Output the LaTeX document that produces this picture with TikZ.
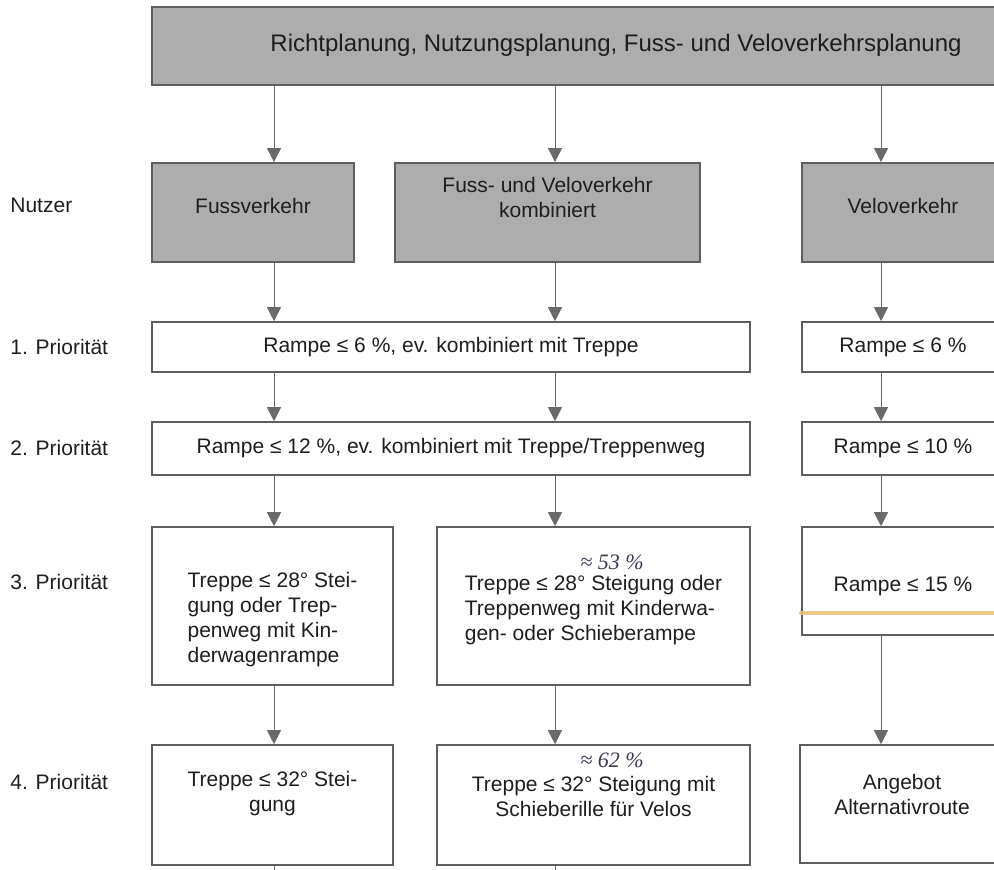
\documentclass[tikz,border=0pt]{standalone}
\usepackage{fontspec}
\setmainfont{Liberation Sans}
\newfontfamily\handfont{Liberation Serif}
\usetikzlibrary{arrows.meta}

\definecolor{boxgray}{HTML}{ADADAD}
\definecolor{framegray}{HTML}{5E5E5E}
\definecolor{arrowgray}{HTML}{6A6A6A}
\definecolor{inkgray}{HTML}{1E1E1E}
\definecolor{handink}{HTML}{3A3A52}
\definecolor{marker}{HTML}{E5C070}

\tikzset{
    boxtext/.style={font=\fontsize{10.5}{12.5}\selectfont, text=inkgray, inner sep=0pt},
    graybox/.style={draw=framegray, fill=boxgray, line width=0.9pt, inner sep=0pt},
    whitebox/.style={draw=framegray, fill=white, line width=0.8pt, inner sep=0pt},
    handnote/.style={font=\handfont\itshape\fontsize{11}{12}\selectfont, text=handink, inner sep=0pt}
}

\begin{document}
\begin{tikzpicture}[x=0.5pt,y=-0.5pt]
    \useasboundingbox (0,0) rectangle (994,870);

    % column positions of the arrows
    \coordinate (c1) at (274,0);
    \coordinate (c2) at (555,0);
    \coordinate (c3) at (881,0);
    \coordinate (cut) at (0,880);

    % gray boxes
    \begin{scope}[every node/.style={graybox}]
        \node (plan) at (616,46) [minimum width=464pt, minimum height=39pt] {};
        \node (fuss) at (253,212.5) [minimum width=101pt, minimum height=49.5pt] {};
        \node (kombi) at (547.5,212.5) [minimum width=152.5pt, minimum height=49.5pt] {};
        \node (velo) at (903,212.5) [minimum width=101pt, minimum height=49.5pt] {};
    \end{scope}

    % white boxes
    \begin{scope}[every node/.style={whitebox}]
        \node (p1a) at (451,347) [minimum width=299pt, minimum height=25pt] {};
        \node (p1b) at (903,347) [minimum width=101pt, minimum height=25pt] {};
        \node (p2a) at (451,448.5) [minimum width=299pt, minimum height=26.5pt] {};
        \node (p2b) at (903,448.5) [minimum width=101pt, minimum height=26.5pt] {};
        \node (p3a) at (272.5,606) [minimum width=120.5pt, minimum height=79pt] {};
        \node (p3b) at (593.5,606) [minimum width=156.5pt, minimum height=79pt] {};
        \node (p3c) at (903,581) [minimum width=101pt, minimum height=54pt] {};
        \node (p4a) at (272.5,805) [minimum width=120.5pt, minimum height=60pt] {};
        \node (p4b) at (593.5,805) [minimum width=156.5pt, minimum height=60pt] {};
        \node (p4c) at (902,804) [minimum width=102pt, minimum height=59pt] {};
    \end{scope}

    % marker stroke
    \draw [marker, line width=2.2pt, opacity=0.85, line cap=round] (p3c.west |- 0,613) -- (p3c.east |- 0,613);

    % box texts
    \begin{scope}[every node/.style={boxtext, align=center}]
        \node (tplan) at (616,45) [font=\fontsize{12}{14}\selectfont] {Richtplanung, Nutzungsplanung, Fuss- und Veloverkehrsplanung};
        \node (tfuss) at (253,206) {Fussverkehr};
        \node (tkombi) at (547.5,197) {Fuss- und Veloverkehr\\kombiniert};
        \node (tvelo) at (903,206) {Veloverkehr};
        \node (t1a) at (451,347) {Rampe ≤ 6 \%, ev. kombiniert mit Treppe};
        \node (t1b) at (903,347) {Rampe ≤ 6 \%};
        \node (t2a) at (451,448.5) {Rampe ≤ 12 \%, ev. kombiniert mit Treppe/Treppenweg};
        \node (t2b) at (903,448.5) {Rampe ≤ 10 \%};
        \node (t3a) at (272.5,620) [align=left] {Treppe ≤ 28° Stei-\\gung oder Trep-\\penweg mit Kin-\\derwagenrampe};
        \node (t3b) at (593.5,610) [align=left] {Treppe ≤ 28° Steigung oder\\Treppenweg mit Kinderwa-\\gen- oder Schieberampe};
        \node (t3c) at (903,586) {Rampe ≤ 15 \%};
        \node (t4a) at (272.5,794) {Treppe ≤ 32° Stei-\\gung};
        \node (t4b) at (593.5,796) {Treppe ≤ 32° Steigung mit\\Schieberille für Velos};
        \node (t4c) at (902,794) {Angebot\\Alternativroute};
    \end{scope}

    % row labels
    \begin{scope}[every node/.style={anchor=west, boxtext}]
        \node (lnutzer) at (10,205) {Nutzer};
        \node (lprio1) at (10,347) {1. Priorität};
        \node (lprio2) at (10,448) {2. Priorität};
        \node (lprio3) at (10,582) {3. Priorität};
        \node (lprio4) at (10,782) {4. Priorität};
    \end{scope}

    % handwritten notes
    \node [handnote] (note53) at (612,562) {≈ 53 \%};
    \node [handnote] (note62) at (612,760) {≈ 62 \%};

    % arrows
    \begin{scope}[every edge/.style={draw=arrowgray, line width=0.5pt, -{Triangle[width=7pt,length=7pt,fill=arrowgray]}}]
        \path (plan.south -| c1) edge (fuss.north -| c1);
        \path (plan.south -| c2) edge (kombi.north -| c2);
        \path (plan.south -| c3) edge (velo.north -| c3);
        \path (fuss.south -| c1) edge (p1a.north -| c1);
        \path (kombi.south -| c2) edge (p1a.north -| c2);
        \path (velo.south -| c3) edge (p1b.north -| c3);
        \path (p1a.south -| c1) edge (p2a.north -| c1);
        \path (p1a.south -| c2) edge (p2a.north -| c2);
        \path (p1b.south -| c3) edge (p2b.north -| c3);
        \path (p2a.south -| c1) edge (p3a.north -| c1);
        \path (p2a.south -| c2) edge (p3b.north -| c2);
        \path (p2b.south -| c3) edge (p3c.north -| c3);
        \path (p3a.south -| c1) edge (p4a.north -| c1);
        \path (p3b.south -| c2) edge (p4b.north -| c2);
        \path (p3c.south -| c3) edge (p4c.north -| c3);
    \end{scope}
    \draw [arrowgray, line width=0.5pt] (p4a.south -| c1) -- (cut -| c1);
    \draw [arrowgray, line width=0.5pt] (p4b.south -| c2) -- (cut -| c2);
\end{tikzpicture}
\end{document}
